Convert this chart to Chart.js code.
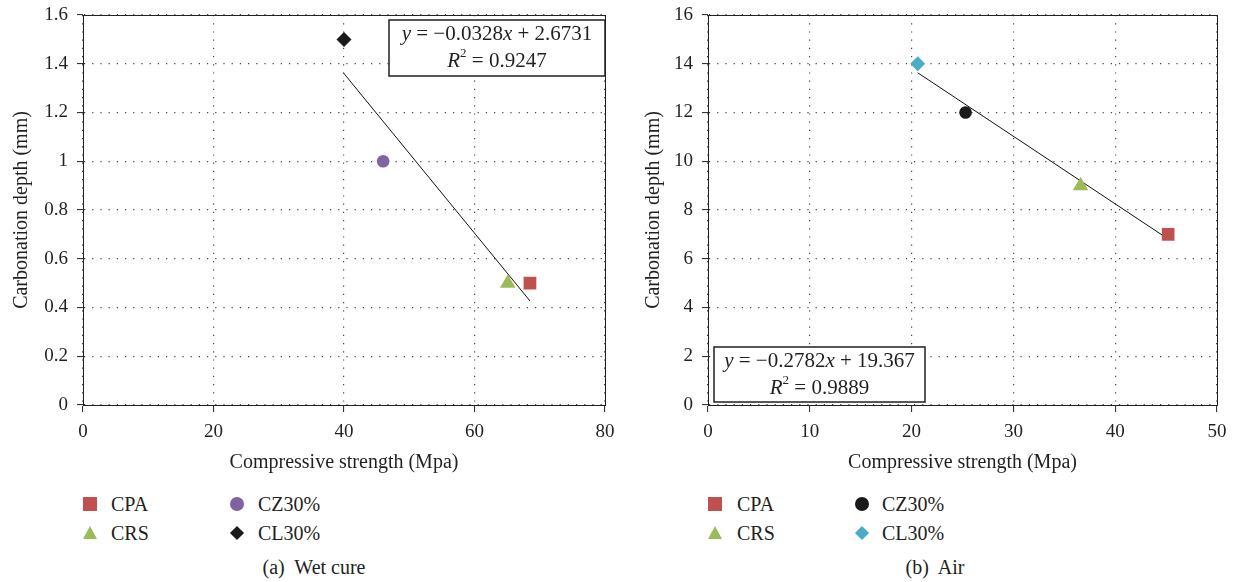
<!DOCTYPE html>
<html>
<head>
<meta charset="utf-8">
<script src="https://cdn.jsdelivr.net/npm/chart.js@4"></script>
<style>
  html, body { margin: 0; padding: 0; background: #fff; }
  body { width: 1235px; height: 582px; position: relative; overflow: hidden;
         font-family: 'Liberation Serif', 'DejaVu Serif', serif; color: #231f20; }
  canvas { position: absolute; top: 0; }
  .lg { position: absolute; font-size: 20px; line-height: 24px; white-space: nowrap; }
  .mk { position: absolute; }
  .cap { position: absolute; font-size: 20px; line-height: 24px; white-space: nowrap; transform: translateX(-50%); }
</style>
</head>
<body>
<canvas id="wetChart"></canvas>
<canvas id="airChart"></canvas>
<div id="legends"></div>
<div class="cap" style="left:314px; top:555px;">(a)&nbsp; Wet cure</div>
<div class="cap" style="left:935px; top:555px;">(b)&nbsp; Air</div>

<script>
// Series order: CPA, CRS, CZ30%, CL30%
const seriesNames = ["CPA", "CRS", "CZ30%", "CL30%"];

// (a) Wet cure
const wetStrength = [68.5, 65.1, 46.0, 40.0];
const wetDepth = [0.5, 0.5, 1.0, 1.5];
const wetTrendX = [39.9, 68.5];
const wetTrendY = [1.363, 0.427];
const wetXTicks = [0, 20, 40, 60, 80];
const wetYTicks = [0, 0.2, 0.4, 0.6, 0.8, 1, 1.2, 1.4, 1.6];

// (b) Air
const airStrength = [45.2, 36.6, 25.3, 20.6];
const airDepth = [7, 9, 12, 14];
const airTrendX = [20.6, 45.2];
const airTrendY = [13.63, 6.81];
const airXTicks = [0, 10, 20, 30, 40, 50];
const airYTicks = [0, 2, 4, 6, 8, 10, 12, 14, 16];

const FONT = "'Liberation Serif', 'DejaVu Serif', serif";
const INK = "#231f20";

const wetColors = ["#C0504D", "#9BBB59", "#8064A2", "#1a1a1a"];
const airColors = ["#C0504D", "#9BBB59", "#1a1a1a", "#4BACC6"];
const shapes = ["rect", "triangle", "circle", "rectRot"];
const radii = [9, 9, 6.3, 7.5];

Chart.defaults.font.family = FONT;
Chart.defaults.color = INK;

// frame + box with the trend line equation
const eqBox = {
    id: "eqBox",
    afterDraw(chart, args, opts) {
        const ctx = chart.ctx;
        const a = chart.chartArea;
        const x = opts.fromRight ? a.right - opts.w : a.left + opts.dx;
        const y = opts.fromTop ? a.top + opts.dy : a.bottom - opts.dy;
        ctx.save();
        ctx.strokeStyle = INK;
        ctx.lineWidth = 1;
        ctx.strokeRect(Math.round(a.left) + 0.5, Math.round(a.top) + 0.5,
            Math.round(a.right - a.left), Math.round(a.bottom - a.top));

        ctx.fillStyle = "#fff";
        ctx.fillRect(x, y, opts.w, opts.h);
        ctx.lineWidth = 1.5;
        ctx.strokeRect(x, y, opts.w, opts.h);

        const cx = x + opts.w / 2;
        drawRuns(ctx, [
            ["y", true], [" = \u2212" + opts.slope.slice(1), false], ["x", true], [" + " + opts.icpt, false]
        ], cx, y + 14);
        drawRuns(ctx, [["R", true], ["2", false, true], [" = " + opts.r2, false]], cx, y + 41);
        ctx.restore();
    }
};

function drawRuns(ctx, runs, cx, cy) {
    const fontOf = r => (r[1] ? "italic " : "") + (r[2] ? "13px " : "21px ") + FONT;
    let total = 0;
    runs.forEach(r => { ctx.font = fontOf(r); total += ctx.measureText(r[0]).width; });
    let x = cx - total / 2;
    ctx.fillStyle = INK;
    ctx.textBaseline = "middle";
    ctx.textAlign = "left";
    runs.forEach(r => {
        ctx.font = fontOf(r);
        ctx.fillText(r[0], x, r[2] ? cy - 7 : cy);
        x += ctx.measureText(r[0]).width;
    });
}

function makeChart(id, left, width, xs, ys, tx, ty, colors, xTicks, yTicks, yAxisW, padRight, eq) {
    const el = document.getElementById(id);
    el.style.left = left + "px";
    el.width = width;
    el.height = 480;
    el.style.width = width + "px";
    el.style.height = "480px";

    const datasets = seriesNames.map((name, i) => ({
        type: "scatter",
        label: name,
        data: [{ x: xs[i], y: ys[i] }],
        pointStyle: shapes[i],
        pointRadius: radii[i],
        pointBackgroundColor: colors[i],
        pointBorderWidth: 0,
        order: 1
    }));
    datasets.push({
        type: "line",
        label: "trend",
        data: tx.map((v, i) => ({ x: v, y: ty[i] })),
        borderColor: "#111",
        borderWidth: 1,
        pointRadius: 0,
        fill: false,
        order: 2
    });

    return new Chart(el, {
        type: "scatter",
        data: { datasets },
        plugins: [eqBox],
        options: {
            responsive: false,
            animation: false,
            layout: { autoPadding: false, padding: { top: 15, right: padRight, left: 0, bottom: 0 } },
            plugins: {
                legend: { display: false },
                tooltip: { enabled: false },
                eqBox: eq
            },
            scales: {
                x: {
                    type: "linear",
                    min: xTicks[0],
                    max: xTicks[xTicks.length - 1],
                    afterBuildTicks: s => { s.ticks = xTicks.map(v => ({ value: v })); },
                    afterFit: s => { s.height = 75; s.paddingLeft = 0; s.paddingRight = 0; },
                    ticks: { font: { size: 19 }, color: INK, padding: 9, maxRotation: 0,
                             callback: v => String(v) },
                    grid: { color: "#444", lineWidth: 1.2, tickLength: 7, tickColor: INK, tickWidth: 1 },
                    border: { display: true, color: INK, width: 1, dash: [1.2, 7] },
                    title: { display: true, text: "Compressive strength (Mpa)", font: { size: 20 },
                             color: INK, padding: { top: 0, bottom: 5 } }
                },
                y: {
                    type: "linear",
                    min: yTicks[0],
                    max: yTicks[yTicks.length - 1],
                    afterBuildTicks: s => { s.ticks = yTicks.map(v => ({ value: v })); },
                    afterFit: s => { s.width = yAxisW; s.paddingTop = 0; s.paddingBottom = 0; },
                    ticks: { font: { size: 19 }, color: INK, padding: 9,
                             callback: v => String(v) },
                    grid: { color: "#444", lineWidth: 1.2, tickLength: 6, tickColor: INK, tickWidth: 1 },
                    border: { display: true, color: INK, width: 1, dash: [1.2, 7] },
                    title: { display: true, text: "Carbonation depth (mm)", font: { size: 20 },
                             color: INK, padding: { top: eq.titlePad, bottom: 0 } }
                }
            }
        }
    });
}

makeChart("wetChart", 0, 617, wetStrength, wetDepth, wetTrendX, wetTrendY, wetColors,
    wetXTicks, wetYTicks, 83, 12,
    { fromRight: true, fromTop: true, dy: 5, w: 216, h: 56,
      slope: "-0.0328", icpt: "2.6731", r2: "0.9247", titlePad: 10 });

makeChart("airChart", 617, 618, airStrength, airDepth, airTrendX, airTrendY, airColors,
    airXTicks, airYTicks, 91, 18,
    { fromRight: false, fromTop: false, dx: 6, dy: 58, w: 211, h: 55,
      slope: "-0.2782", icpt: "19.367", r2: "0.9889", titlePad: 25 });

// legends (two columns, two rows)
function legendMarker(shape, color, cx, cy) {
    const d = document.createElement("div");
    d.className = "mk";
    if (shape === "rect") {
        Object.assign(d.style, { left: (cx - 7) + "px", top: (cy - 7) + "px", width: "14px", height: "14px", background: color });
    } else if (shape === "circle") {
        Object.assign(d.style, { left: (cx - 7) + "px", top: (cy - 7) + "px", width: "14px", height: "14px", background: color, borderRadius: "50%" });
    } else if (shape === "triangle") {
        Object.assign(d.style, { left: (cx - 7) + "px", top: (cy - 7) + "px", width: 0, height: 0,
            borderLeft: "7px solid transparent", borderRight: "7px solid transparent", borderBottom: "13px solid " + color });
    } else {
        Object.assign(d.style, { left: (cx - 5) + "px", top: (cy - 5) + "px", width: "10px", height: "10px", background: color, transform: "rotate(45deg)" });
    }
    return d;
}

const legendHost = document.getElementById("legends");
function addLegend(colors, col1, col2) {
    const rowsY = [504, 533];
    seriesNames.forEach((name, i) => {
        const col = i < 2 ? col1 : col2;
        const cy = rowsY[i % 2];
        legendHost.appendChild(legendMarker(shapes[i], colors[i], col[0], cy));
        const t = document.createElement("div");
        t.className = "lg";
        t.style.left = col[1] + "px";
        t.style.top = (cy - 12) + "px";
        t.textContent = name;
        legendHost.appendChild(t);
    });
}
addLegend(wetColors, [90, 111], [237, 258]);
addLegend(airColors, [715, 737], [862, 882]);
</script>
</body>
</html>
